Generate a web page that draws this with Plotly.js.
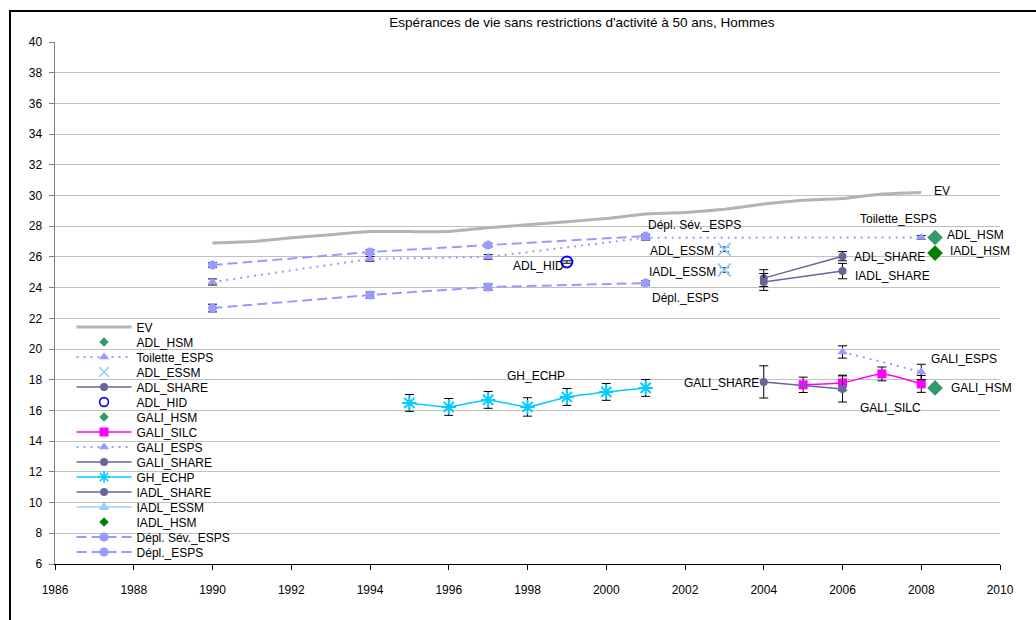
<!DOCTYPE html>
<html>
<head>
<meta charset="utf-8">
<script src="https://cdn.plot.ly/plotly-3.0.1.min.js"></script>
<style>
  html, body { margin: 0; padding: 0; background: #fff; }
  #wrap { position: relative; width: 1036px; height: 620px; overflow: hidden; }
  #chart { position: absolute; left: 0; top: 0; width: 1036px; height: 620px; }
  #frame { position: absolute; left: 9px; top: 10px; width: 1100px; height: 700px;
           border-left: 2px solid #000; border-top: 2px solid #000; pointer-events: none; }
</style>
</head>
<body>
<div id="wrap">
  <div id="chart"></div>
  <div id="frame"></div>
</div>
<script>
// ---------------- data ----------------
const evYears = [1990,1991,1992,1993,1994,1995,1996,1997,1998,1999,2000,2001,2002,2003,2004,2005,2006,2007,2008];
const evValues = [26.9,27.0,27.25,27.45,27.65,27.65,27.65,27.9,28.1,28.3,28.5,28.8,28.9,29.1,29.45,29.7,29.8,30.1,30.2];

const hsmYear = [2008.35];
const adlHsm = [27.27];
const iadlHsm = [26.25];
const galiHsm = [17.47];

const toiletteYears = [1990,1994,1997,2001,2008];
const toiletteValues = [24.37,25.87,26.0,27.25,27.27];
const toiletteErr = [0.2,0.15,0.15,0.15,0.12];

const essmYear = [2003];
const adlEssm = [26.5];
const adlEssmErr = [0.15];
const iadlEssm = [25.15];
const iadlEssmErr = [0.15];

const shareAdlYears = [2004,2006];
const adlShare = [24.62,26.05];
const adlShareErr = [0.55,0.3];
const iadlShare = [24.37,25.08];
const iadlShareErr = [0.55,0.5];

const hidYear = [1999];
const adlHid = [25.67];
const adlHidErr = [0.08];

const silcYears = [2005,2006,2007,2008];
const galiSilc = [17.67,17.8,18.38,17.73];
const galiSilcErr = [0.5,0.5,0.45,0.55];

const galiEspsYears = [2006,2008];
const galiEsps = [19.81,18.51];
const galiEspsErr = [0.4,0.5];

const galiShareYears = [2004,2006];
const galiShare = [17.86,17.4];
const galiShareErr = [1.05,0.85];

const echpYears = [1995,1996,1997,1998,1999,2000,2001];
const ghEchp = [16.49,16.23,16.69,16.23,16.88,17.21,17.47];
const ghEchpErr = [0.55,0.55,0.55,0.6,0.55,0.55,0.55];

const espsYears = [1990,1994,1997,2001];
const deplSev = [25.47,26.32,26.77,27.36];
const deplSevErr = [0.15,0.15,0.12,0.12];
const depl = [22.67,23.52,24.04,24.30];
const deplErr = [0.25,0.2,0.2,0.15];

// label texts and their anchor points (left edge, middle)
const labelTexts = ["EV","Toilette_ESPS","ADL_HSM","IADL_HSM","ADL_SHARE","IADL_SHARE","Dépl. Sév._ESPS","ADL_ESSM","IADL_ESSM","Dépl._ESPS","ADL_HID","GH_ECHP","GALI_ESPS","GALI_SHARE","GALI_HSM","GALI_SILC"];
const labelX = [2008.29,2006.41,2008.62,2008.70,2006.26,2006.29,2001.03,2001.08,2001.06,2001.13,1997.61,1997.46,2008.21,2001.95,2008.72,2006.41];
const labelY = [30.29,28.46,27.42,26.38,25.99,24.76,28.07,26.38,25.02,23.32,25.41,18.25,19.36,17.81,17.49,16.19];

const xTicks = [1986,1988,1990,1992,1994,1996,1998,2000,2002,2004,2006,2008,2010];
const yTicks = [6,8,10,12,14,16,18,20,22,24,26,28,30,32,34,36,38,40];

// ---------------- styling helpers ----------------
const FONT = 'Liberation Sans, Arial, sans-serif';
function eb(arr) {
  return { type: 'data', array: arr, visible: true, color: '#000', thickness: 1, width: 4.5 };
}

const traces = [
  { name: 'EV', x: evYears, y: evValues, mode: 'lines',
    line: { color: '#b3b3b3', width: 3, shape: 'spline', smoothing: 0.3 } },
  { name: 'ADL_HSM', x: hsmYear, y: adlHsm, mode: 'markers',
    marker: { symbol: 'diamond', color: '#339966', size: 12 } },
  { name: 'Toilette_ESPS', x: toiletteYears, y: toiletteValues, mode: 'lines+markers',
    line: { color: '#9999ff', width: 2, dash: '2px,5px' },
    marker: { symbol: 'triangle-up', color: '#9999ff', size: 9 }, error_y: eb(toiletteErr) },
  { name: 'ADL_ESSM', x: essmYear, y: adlEssm, mode: 'markers',
    marker: { symbol: 'x-thin-open', size: 13, color: '#99ccff', line: { color: '#99ccff', width: 2 } }, error_y: eb(adlEssmErr) },
  { name: 'ADL_SHARE', x: shareAdlYears, y: adlShare, mode: 'lines+markers',
    line: { color: '#666699', width: 1.5 },
    marker: { symbol: 'circle', color: '#666699', size: 8 }, error_y: eb(adlShareErr) },
  { name: 'ADL_HID', x: hidYear, y: adlHid, mode: 'markers',
    marker: { symbol: 'circle-open', size: 11, color: '#0000ff', line: { color: '#0000ff', width: 2 } }, error_y: eb(adlHidErr) },
  { name: 'GALI_HSM', x: hsmYear, y: galiHsm, mode: 'markers',
    marker: { symbol: 'diamond', color: '#339966', size: 12 } },
  { name: 'GALI_SILC', x: silcYears, y: galiSilc, mode: 'lines+markers',
    line: { color: '#ff00ff', width: 1.5, shape: 'spline', smoothing: 0.6 },
    marker: { symbol: 'square', color: '#ff00ff', size: 9 }, error_y: eb(galiSilcErr) },
  { name: 'GALI_ESPS', x: galiEspsYears, y: galiEsps, mode: 'lines+markers',
    line: { color: '#9999ff', width: 2, dash: '2px,5px' },
    marker: { symbol: 'triangle-up', color: '#9999ff', size: 9 }, error_y: eb(galiEspsErr) },
  { name: 'GALI_SHARE', x: galiShareYears, y: galiShare, mode: 'lines+markers',
    line: { color: '#666699', width: 1.5 },
    marker: { symbol: 'circle', color: '#666699', size: 8 }, error_y: eb(galiShareErr) },
  { name: 'GH_ECHP', x: echpYears, y: ghEchp, mode: 'lines+markers',
    line: { color: '#00ccff', width: 1.5, shape: 'spline', smoothing: 0.4 },
    marker: { symbol: 'asterisk-open', size: 12, color: '#00ccff', line: { color: '#00ccff', width: 2 } }, error_y: eb(ghEchpErr) },
  { name: 'IADL_SHARE', x: shareAdlYears, y: iadlShare, mode: 'lines+markers',
    line: { color: '#666699', width: 1.5 },
    marker: { symbol: 'circle', color: '#666699', size: 8 }, error_y: eb(iadlShareErr) },
  { name: 'IADL_ESSM', x: essmYear, y: iadlEssm, mode: 'lines+markers',
    line: { color: '#99ccff', width: 1.5 },
    marker: { symbol: 'x-thin-open', size: 13, color: '#99ccff', line: { color: '#99ccff', width: 2 } }, error_y: eb(iadlEssmErr) },
  { name: 'IADL_HSM', x: hsmYear, y: iadlHsm, mode: 'markers',
    marker: { symbol: 'diamond', color: '#008000', size: 12 } },
  { name: 'Dépl. Sév._ESPS', x: espsYears, y: deplSev, mode: 'lines+markers',
    line: { color: '#9999ff', width: 2, dash: '10px,5px' },
    marker: { symbol: 'circle', color: '#9999ff', size: 9 }, error_y: eb(deplSevErr) },
  { name: 'Dépl._ESPS', x: espsYears, y: depl, mode: 'lines+markers',
    line: { color: '#9999ff', width: 2, dash: '10px,5px' },
    marker: { symbol: 'circle', color: '#9999ff', size: 9 }, error_y: eb(deplErr) }
];

// legend marker scale per trace (legend symbols are smaller than plotted ones)
const legendMarkerScale = [1, 0.6, 1, 0.75, 1, 0.8, 0.6, 1, 1, 1, 0.8, 1, 1, 0.6, 1, 1];

const annotations = labelTexts.map((t, i) => ({
  text: t, x: labelX[i], y: labelY[i], xref: 'x', yref: 'y',
  xanchor: 'left', yanchor: 'middle', showarrow: false,
  font: { family: FONT, size: 12, color: '#000' }, borderpad: 0
}));

const layout = {
  width: 1036, height: 620,
  margin: { l: 55, r: 36, t: 42, b: 56, pad: 0 },
  paper_bgcolor: 'rgba(0,0,0,0)', plot_bgcolor: 'rgba(0,0,0,0)',
  font: { family: FONT, size: 12, color: '#000' },
  title: { text: "Espérances de vie sans restrictions d'activité à 50 ans, Hommes",
           font: { family: FONT, size: 13.5, color: '#000' },
           x: 582 / 1036, xref: 'container', xanchor: 'center',
           y: 1 - 22 / 620, yref: 'container', yanchor: 'middle' },
  showlegend: true,
  legend: {
    x: 0.0175, y: 0.0, xanchor: 'left', yanchor: 'bottom',
    bgcolor: 'rgba(0,0,0,0)', borderwidth: 0,
    font: { family: FONT, size: 12, color: '#000' },
    itemwidth: 55, tracegroupgap: 0, traceorder: 'normal'
  },
  xaxis: {
    range: [1986, 2010], tickmode: 'array', tickvals: xTicks, ticktext: xTicks.map(String),
    showgrid: false, zeroline: false, showline: true, linecolor: '#000', linewidth: 1,
    ticks: 'outside', ticklen: 5, tickcolor: '#000', tickwidth: 1,
    tickfont: { family: FONT, size: 12, color: '#000' }, ticklabelstandoff: 10
  },
  yaxis: {
    range: [6, 40], tickmode: 'array', tickvals: yTicks, ticktext: yTicks.map(String),
    showgrid: true, gridcolor: '#c0c0c0', gridwidth: 1, zeroline: false,
    showline: true, linecolor: '#808080', linewidth: 1.5,
    ticks: 'outside', ticklen: 5, tickcolor: '#808080', tickwidth: 1,
    tickfont: { family: FONT, size: 12, color: '#000' }, ticklabelstandoff: 4
  },
  annotations: annotations
};

const TRANSLATE_RE = /translate\(\s*([-\d.eE]+)[ ,]+([-\d.eE]+)\s*\)/;
const gd = document.getElementById('chart');
Plotly.newPlot(gd, traces, layout, { displayModeBar: false, staticPlot: true }).then(() => {
  // compact legend rows (Excel-like spacing): first row centred at page y=327, 15px apart
  const leg = gd.querySelector('g.legend');
  if (!leg) return;
  const lm = TRANSLATE_RE.exec(leg.getAttribute('transform') || '');
  const legTop = lm ? parseFloat(lm[2]) : 0;
  const items = gd.querySelectorAll('.legend .traces');
  items.forEach((g, i) => {
    const m = TRANSLATE_RE.exec(g.getAttribute('transform') || '');
    const xx = m ? m[1] : 0;
    g.setAttribute('transform', 'translate(' + xx + ',' + (327 - legTop + i * 15) + ')');
    const s = legendMarkerScale[i] || 1;
    if (s !== 1) {
      g.querySelectorAll('.legendpoints path.scatterpts').forEach(p => {
        const t = p.getAttribute('transform') || '';
        p.setAttribute('transform', t + ' scale(' + s + ')');
      });
    }
    // IADL_ESSM legend key is drawn as a triangle in the original chart
    if (i === 12) {
      g.querySelectorAll('.legendpoints path.scatterpts').forEach(p => {
        p.setAttribute('d', 'M-5.2,3H5.2L0,-6Z');
        p.style.fill = '#99ccff';
        p.style.stroke = 'none';
      });
    }
  });
});
</script>
</body>
</html>
